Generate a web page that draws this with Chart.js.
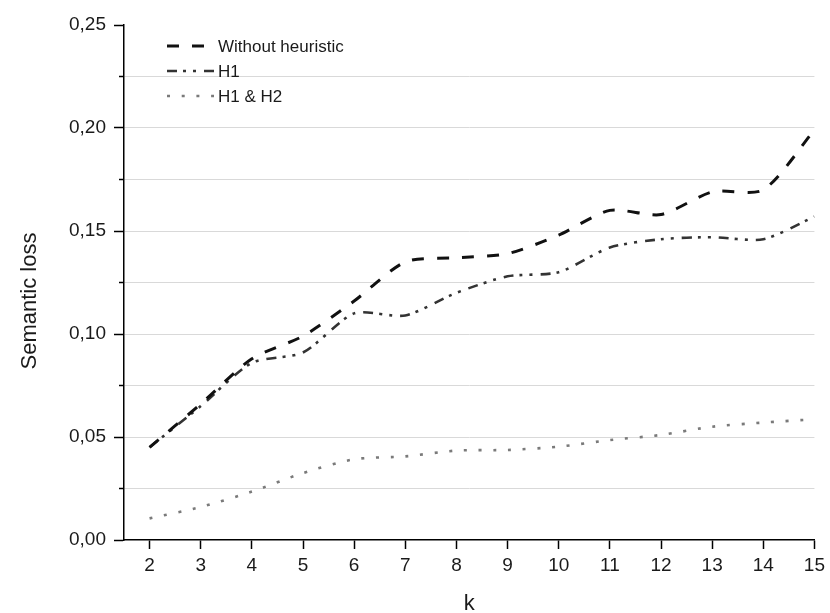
<!DOCTYPE html>
<html>
<head>
<meta charset="utf-8">
<script src="https://cdn.jsdelivr.net/npm/chart.js@4/dist/chart.umd.min.js"></script>
<style>
  html, body { margin: 0; padding: 0; background: #fff; }
  #wrap { width: 830px; height: 613px; }
</style>
</head>
<body>
<div id="wrap"><canvas id="lossChart" width="830" height="613"></canvas></div>
<script>
// k values on the x axis
const kValues = [2, 3, 4, 5, 6, 7, 8, 9, 10, 11, 12, 13, 14, 15];

// semantic loss for each variant
const withoutHeuristic = [0.045, 0.066, 0.088, 0.099, 0.116, 0.135, 0.137, 0.139, 0.148, 0.160, 0.158, 0.169, 0.170, 0.199];
const h1Loss = [0.045, 0.065, 0.086, 0.091, 0.110, 0.109, 0.120, 0.128, 0.130, 0.142, 0.146, 0.147, 0.146, 0.157];
const h1h2Loss = [0.0105, 0.016, 0.0235, 0.0325, 0.0392, 0.0406, 0.0434, 0.0437, 0.0453, 0.0485, 0.051, 0.055, 0.057, 0.0586];

const seriesNames = ['Without heuristic', 'H1', 'H1 & H2'];

// y ticks every 0.025, labelled every 0.05
const yTicks = [0, 0.025, 0.05, 0.075, 0.10, 0.125, 0.15, 0.175, 0.20, 0.225, 0.25];

const FONT = 'Arial, "Liberation Sans", sans-serif';

function toPoints(values) {
  return kValues.map((k, i) => ({ x: k, y: values[i] }));
}

function isMajor(v) {
  return Math.abs(v / 0.05 - Math.round(v / 0.05)) < 1e-6;
}

//  Legend drawn inside the plot, upper left, using each dataset's own dash style
const insideLegend = {
  id: 'insideLegend',
  afterDraw(chart) {
    const ctx = chart.ctx;
    const area = chart.chartArea;
    const x0 = area.left + 43;
    const x1 = area.left + 90;
    const rowY = [area.top + 21, area.top + 46, area.top + 71];
    ctx.save();
    chart.data.datasets.forEach((ds, i) => {
      ctx.beginPath();
      ctx.setLineDash(ds.borderDash || []);
      ctx.lineWidth = ds.borderWidth;
      ctx.strokeStyle = ds.borderColor;
      ctx.moveTo(x0, rowY[i]);
      ctx.lineTo(x1, rowY[i]);
      ctx.stroke();
      ctx.setLineDash([]);
      ctx.fillStyle = '#1a1a1a';
      ctx.font = '17px ' + FONT;
      ctx.textBaseline = 'middle';
      ctx.textAlign = 'left';
      ctx.fillText(ds.label, x1 + 4, rowY[i] + 1);
    });
    ctx.restore();
  }
};

//  Short minor tick marks on the y axis, plus the rotated y axis title
//  (sits a little below the middle of the axis)
const yAxisExtras = {
  id: 'yAxisExtras',
  afterDraw(chart) {
    const ctx = chart.ctx;
    const yScale = chart.scales.y;
    ctx.save();
    ctx.strokeStyle = '#000';
    ctx.lineWidth = 1.5;
    yScale.ticks.forEach(t => {
      if (isMajor(t.value)) return;
      const y = yScale.getPixelForValue(t.value);
      ctx.beginPath();
      ctx.moveTo(yScale.right - 5, y);
      ctx.lineTo(yScale.right, y);
      ctx.stroke();
    });

    ctx.translate(yScale.left + 30, yScale.getPixelForValue(0.116));
    ctx.rotate(-Math.PI / 2);
    ctx.fillStyle = '#1a1a1a';
    ctx.font = '22px ' + FONT;
    ctx.textAlign = 'center';
    ctx.textBaseline = 'middle';
    ctx.fillText('Semantic loss', 0, 0);
    ctx.restore();
  }
};

const ctx = document.getElementById('lossChart').getContext('2d');

let lossChart = new Chart(ctx, {
  type: 'line',
  data: {
    datasets: [
      {
        label: seriesNames[0],
        data: toPoints(withoutHeuristic),
        borderColor: '#111',
        borderWidth: 3,
        borderDash: [12, 13],
        borderCapStyle: 'butt',
        pointRadius: 0,
        tension: 0.25,
        fill: false
      },
      {
        label: seriesNames[1],
        data: toPoints(h1Loss),
        borderColor: '#333',
        borderWidth: 2.6,
        borderDash: [10, 6, 3, 7, 3, 8],
        borderCapStyle: 'butt',
        pointRadius: 0,
        tension: 0.25,
        fill: false
      },
      {
        label: seriesNames[2],
        data: toPoints(h1h2Loss),
        borderColor: '#7a7a7a',
        borderWidth: 2.6,
        borderDash: [3, 11.7],
        borderCapStyle: 'butt',
        pointRadius: 0,
        tension: 0.25,
        fill: false
      }
    ]
  },
  options: {
    responsive: false,
    animation: false,
    layout: { padding: { left: 0, right: 14, top: 25, bottom: 0 } },
    plugins: {
      legend: { display: false },
      tooltip: { enabled: false }
    },
    scales: {
      x: {
        type: 'linear',
        min: 1.5,
        max: 15,
        afterBuildTicks: scale => { scale.ticks = kValues.map(v => ({ value: v })); },
        afterFit: scale => { scale.height = 73; },
        border: { color: '#000', width: 1.5 },
        grid: {
          drawOnChartArea: false,
          drawTicks: true,
          tickLength: 9,
          tickColor: '#000',
          tickWidth: 1.5
        },
        ticks: {
          color: '#1a1a1a',
          padding: 5,
          maxRotation: 0,
          autoSkip: false,
          font: { family: FONT, size: 19 }
        },
        title: {
          display: true,
          text: 'k',
          color: '#1a1a1a',
          font: { family: FONT, size: 22 },
          padding: { top: 0, bottom: -4 }
        }
      },
      y: {
        min: 0,
        max: 0.25,
        afterBuildTicks: scale => { scale.ticks = yTicks.map(v => ({ value: v })); },
        afterFit: scale => { scale.width = 124; },
        border: { color: '#000', width: 1.5 },
        grid: {
          drawTicks: true,
          tickLength: 10,
          tickWidth: 1.5,
          color: c => (c.tick && (c.tick.value === 0 || c.tick.value === 0.25)) ? 'rgba(0,0,0,0)' : '#d9d9d9',
          tickColor: c => (c.tick && isMajor(c.tick.value)) ? '#000' : 'rgba(0,0,0,0)',
          borderDash: [1, 2],
          lineWidth: 1
        },
        ticks: {
          color: '#1a1a1a',
          padding: 8,
          autoSkip: false,
          font: { family: FONT, size: 19 },
          callback: v => isMajor(v) ? v.toFixed(2).replace('.', ',') : ''
        },
        title: { display: false }
      }
    }
  },
  plugins: [insideLegend, yAxisExtras]
});
</script>
</body>
</html>
